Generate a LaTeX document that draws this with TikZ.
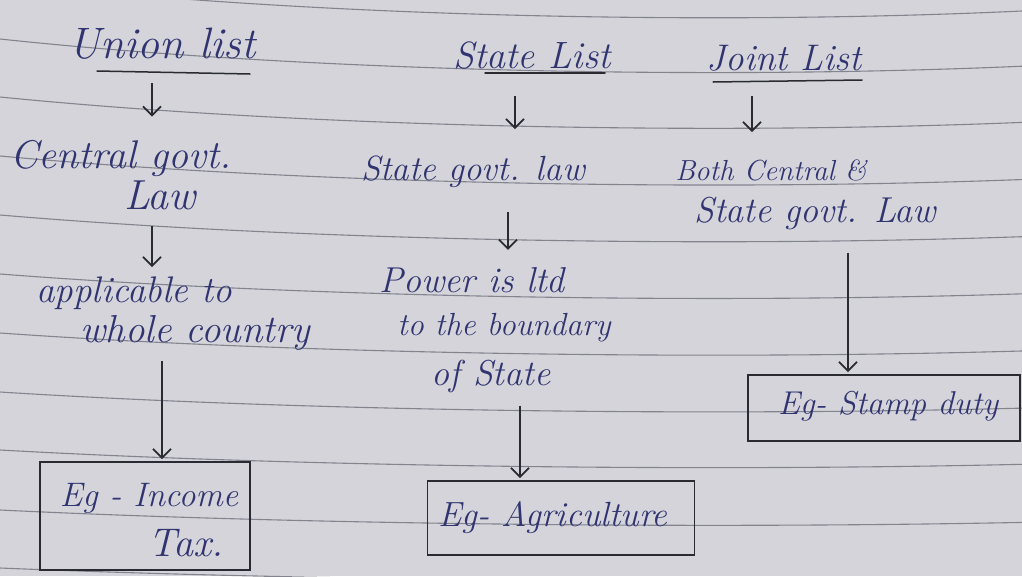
\documentclass[tikz,border=0pt]{standalone}
\usetikzlibrary{arrows.meta}
\definecolor{paper}{HTML}{D4D4DA}
\definecolor{rulec}{HTML}{84848F}
\definecolor{ink}{HTML}{303470}
\definecolor{pen}{HTML}{2A2A33}
\begin{document}
\begin{tikzpicture}[x=1pt,y=-1pt,
  txt/.style={text=ink, font=\fontsize{#1}{#1}\selectfont\itshape, inner sep=1pt, anchor=base},
  txt/.default=36,
  arr/.style={draw=pen, line width=1.8pt, -{Straight Barb[length=9pt,width=18pt]}},
  exbox/.style={draw=pen, line width=1.8pt, inner sep=0pt},
  ul/.style={draw=pen, line width=1.5pt, line cap=round},
  ruled/.style={draw=rulec, line width=1.1pt}]
\useasboundingbox (0,0) rectangle (1022,576);
\fill[paper] (0,0) rectangle (1022,576);
\begin{scope}
\clip (0,0) rectangle (1022,576);
\foreach \L in {-18,39,97,156,215,274,333,392,450,510,568}{
  \pgfmathsetmacro{\k}{1-(\L+18)*0.00109}
  \draw[ruled] (0,\L) .. controls (300,\L+34*\k) and (700,\L+44*\k) .. (1022,\L+29*\k);
}
\end{scope}

% Union list column
\node[txt=44] (union) at (162,58) {Union list};
\draw[ul] (97,71) -- (250,74);
\node[txt=40] (central) at (121,168) {Central govt.};
\node[txt=42] (law) at (160,209) {Law};
\node[txt=37] (applic) at (134,302) {applicable to};
\node[txt=39] (whole) at (195,342) {whole country};
\node[exbox, minimum width=210, minimum height=108] (box1) at (145,516) {};
\node[txt=34] (inc) at (149,506) {Eg - Income};
\node[txt=40] (tax) at (186,556) {Tax.};

% State list column
\node[txt=38] (state) at (532,68) {State List};
\draw[ul] (485,73) -- (605,73);
\node[txt=35] (stategovt) at (473,180) {State govt. law};
\node[txt=36] (power) at (472,292) {Power is ltd};
\node[txt=32] (bound) at (504,335) {to the boundary};
\node[txt=36] (ofstate) at (491,385) {of State};
\node[exbox, minimum width=267, minimum height=74] (box2) at (561,518) {};
\node[txt=35] (agri) at (553,526) {Eg- Agriculture};

% Joint list column
\node[txt=37] (joint) at (784,70) {Joint List};
\draw[ul] (713,82) -- (862,80);
\node[txt=29] (both) at (771,180) {Both Central \&};
\node[txt=36] (sgl) at (815,222) {State govt. Law};
\node[exbox, minimum width=272, minimum height=66] (box3) at (884,408) {};
\node[txt=33] (stamp) at (888,414) {Eg- Stamp duty};

% connectors
\draw[arr, shorten <=23pt, shorten >=22pt] (union.south -| 152,0) -- (central.north -| 152,0);
\draw[arr, shorten <=15pt, shorten >=8pt] (law.south -| 152,0) -- (applic.north -| 152,0);
\draw[arr, shorten <=10pt, shorten >=2pt] (whole.south -| 162,0) -- (box1.north -| 162,0);
\draw[arr, shorten <=26pt, shorten >=25pt] (state.south -| 515,0) -- (stategovt.north -| 515,0);
\draw[arr, shorten <=24pt, shorten >=16pt] (stategovt.south -| 508,0) -- (power.north -| 508,0);
\draw[arr, shorten <=12pt, shorten >=2pt] (ofstate.south -| 520,0) -- (box2.north -| 520,0);
\draw[arr, shorten <=24pt, shorten >=26pt] (joint.south -| 752,0) -- (both.north -| 752,0);
\draw[arr, shorten <=22pt, shorten >=2pt] (sgl.south -| 848,0) -- (box3.north -| 848,0);
\end{tikzpicture}
\end{document}
